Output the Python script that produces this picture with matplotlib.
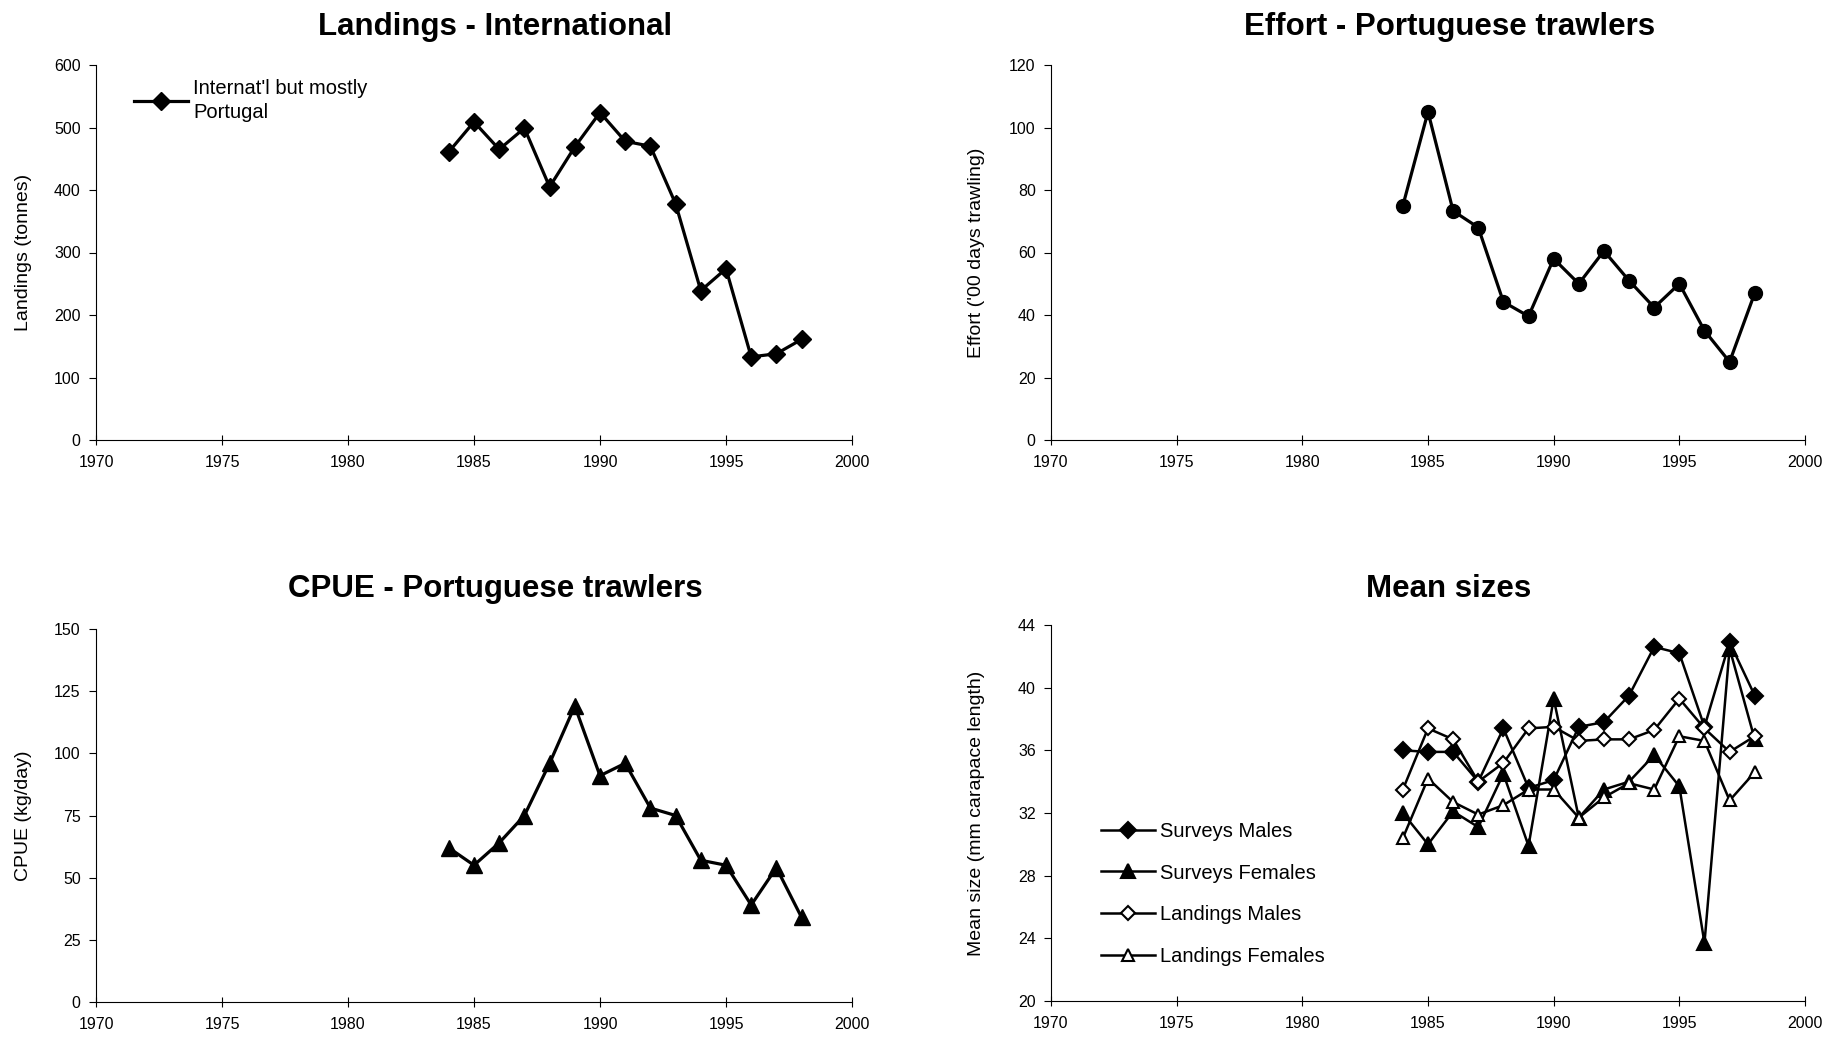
import matplotlib

matplotlib.use("Agg")
import matplotlib.pyplot as plt

years = list(range(1984, 1999))

landings = [461, 509, 465, 499, 405, 469, 524, 478, 470, 378, 239, 274, 133, 138, 161]
effort = [75, 105, 73.3, 68, 44.2, 39.6, 58, 50, 60.5, 51, 42.4, 50, 35, 25, 47]
cpue = [62, 55, 64, 75, 96, 119, 91, 96, 78, 75, 57, 55, 39, 54, 34]

surveys_males = [36.0, 35.9, 35.9, 34.0, 37.4, 33.6, 34.1, 37.5, 37.8, 39.5, 42.6, 42.2, 37.5, 42.9, 39.5]
surveys_females = [32.0, 30.0, 32.1, 31.1, 34.5, 29.9, 39.3, 31.7, 33.5, 34.0, 35.7, 33.7, 23.7, 42.5, 36.7]
landings_males = [33.5, 37.4, 36.7, 34.0, 35.2, 37.4, 37.5, 36.6, 36.7, 36.7, 37.3, 39.3, 37.4, 35.9, 36.9]
landings_females = [30.4, 34.2, 32.7, 31.9, 32.5, 33.5, 33.5, 31.7, 33.0, 33.9, 33.5, 36.9, 36.6, 32.8, 34.6]

plt.rcParams.update({"font.family": ["Liberation Sans", "DejaVu Sans"]})

W, H = 1829, 1040
fig = plt.figure(figsize=(W / 100, H / 100), dpi=100)


def px_axes(l, t, r, b):
    return fig.add_axes([l / W, 1 - b / H, (r - l) / W, (b - t) / H])


def style(ax, ylim, ystep, ylabel, labx):
    ax.set_xlim(1970, 2000)
    ax.set_ylim(*ylim)
    ax.set_xticks(range(1970, 2001, 5))
    ax.set_yticks(range(ylim[0], ylim[1] + 1, ystep))
    for s in ("top", "right"):
        ax.spines[s].set_visible(False)
    for s in ("left", "bottom"):
        ax.spines[s].set_linewidth(0.8)
    ax.tick_params(axis="x", direction="inout", length=7, width=0.8, labelsize=11.5, pad=7)
    ax.tick_params(axis="y", direction="out", length=5, width=0.8, labelsize=11.5, pad=6)
    ax.set_ylabel(ylabel, fontsize=14)
    ax.yaxis.set_label_coords(labx, 0.5)


ax1 = px_axes(96, 65, 852, 440)
ax2 = px_axes(1051, 65, 1805, 440)
ax3 = px_axes(96, 629, 852, 1002)
ax4 = px_axes(1051, 625, 1805, 1001)

ax1.plot(years, landings, "k-", lw=2.3, marker="D", ms=9, label="Internat'l but mostly\nPortugal")
style(ax1, (0, 600), 100, "Landings (tonnes)", -0.085)
leg = ax1.legend(loc="upper left", bbox_to_anchor=(0.05, 0.964), frameon=False, fontsize=14.5,
                 handlelength=2.7, handletextpad=0.25, borderpad=0, borderaxespad=0, numpoints=1)
for t in leg.get_texts():
    t.set_linespacing(1.35)

ax2.plot(years, effort, "k-", lw=2.3, marker="o", ms=10)
style(ax2, (0, 120), 20, "Effort ('00 days trawling)", -0.088)

ax3.plot(years, cpue, "k-", lw=2.3, marker="^", ms=11)
style(ax3, (0, 150), 25, "CPUE (kg/day)", -0.085)

kw = dict(color="k", lw=1.8, mew=1.5)
ax4.plot(years, surveys_males, marker="D", ms=8, mfc="k", label="Surveys Males", **kw)
ax4.plot(years, surveys_females, marker="^", ms=10, mfc="k", label="Surveys Females", **kw)
ax4.plot(years, landings_males, marker="D", ms=7, mfc="white", label="Landings Males", **kw)
ax4.plot(years, landings_females, marker="^", ms=9, mfc="white", label="Landings Females", **kw)
style(ax4, (20, 44), 4, "Mean size (mm carapace length)", -0.088)
ax4.legend(loc="lower left", bbox_to_anchor=(0.066, 0.094), frameon=False, fontsize=14.5,
           handlelength=2.7, handletextpad=0.25, borderpad=0, borderaxespad=0,
           labelspacing=1.12, numpoints=1)

# titles placed by centre x and baseline y in pixels
titles = [
    ("Landings - International", 495, 35),
    ("Effort - Portuguese trawlers", 1450, 35),
    ("CPUE - Portuguese trawlers", 495, 597),
    ("Mean sizes", 1449, 597),
]
for txt, x, y in titles:
    fig.text(x / W, 1 - y / H, txt, ha="center", va="baseline", fontsize=22.5, fontweight="bold")

fig.savefig("out.png", dpi=100)
